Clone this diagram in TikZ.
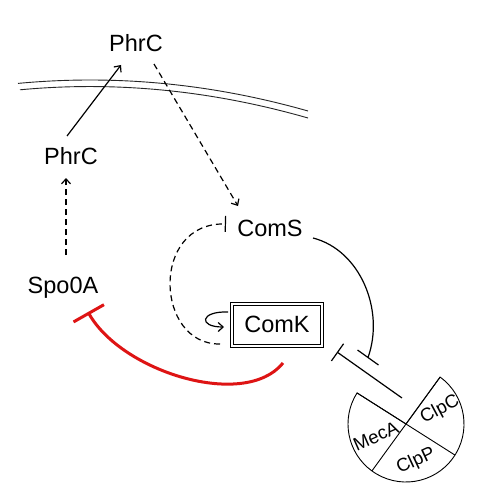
\documentclass[tikz,border=0pt]{standalone}
\usepackage{fontspec}
\setmainfont{Liberation Sans}
\usetikzlibrary{arrows.meta,calc}
\definecolor{inhred}{RGB}{222,20,20}
\begin{document}
\begin{tikzpicture}[x=1pt,y=-1pt,
  lbl/.style={font=\fontsize{23.5}{28}\selectfont, inner sep=0pt, anchor=base},
  sub/.style={font=\fontsize{18.5}{22}\selectfont, inner sep=0pt},
  conn/.style={line width=1.2pt},
  dsh/.style={conn, dash pattern=on 6pt off 4pt},
  act/.style={-{Straight Barb[length=5pt,width=9pt,line width=1.2pt]}},
  memb/.style={line width=0.9pt, black!85},
  redinh/.style={line width=3pt, inhred, -{Bar[width=35pt,line width=3pt]}}]
\useasboundingbox (0,0) rectangle (485,492);
\fill[white] (0,0) rectangle (485,492);

% membrane
\draw[memb] (18,83.4) .. controls (114.7,74.3) and (211.3,83.5) .. (308,111);
\draw[memb] (20,89.8) .. controls (116,80.8) and (212,90.5) .. (308,118);

% nodes
\node[lbl] (phrT) at (136,52) {PhrC};
\node[lbl] (phrM) at (71,164) {PhrC};
\node[lbl] (spo) at (63,293) {Spo0A};
\node[lbl] (coms) at (270,236) {ComS};
\node[font=\fontsize{23.5}{28}\selectfont, draw, double, double distance=2pt, line width=1pt,
      minimum width=90.5pt, minimum height=42pt, inner sep=0pt] (comk) at (277,324.5) {ComK};

% complex
\coordinate (cx) at (406,424);
\draw[line width=0.9pt] (cx) ++(306:58) arc[start angle=306, end angle=572.4, radius=58] -- (cx) -- cycle;
\draw[line width=0.9pt] ($(cx)+(212.4:58)$) -- ($(cx)+(32.4:58)$);
\draw[line width=0.9pt] ($(cx)+(306:58)$) -- ($(cx)+(126:58)$);
\node[sub, rotate=24] (meca) at (376,436) {MecA};
\node[sub, rotate=28] (clpc) at (440,410) {ClpC};
\node[sub, rotate=25] (clpp) at (416,461) {ClpP};

% connector end points
\coordinate (a1) at (67,136);
\coordinate (a2) at (121,65);
\coordinate (b1) at (154,64);
\coordinate (b2) at (238,206);
\coordinate (c1) at (66,255);
\coordinate (c2) at (66,178);
\coordinate (d1) at (220,344);
\coordinate (d2) at (226,224);
\coordinate (e1) at (228,312);
\coordinate (e2) at (224,327);
\coordinate (f1) at (313,238);
\coordinate (f2) at (368,357.5);
\coordinate (g1) at (402,398);
\coordinate (g2) at (337,352);
\coordinate (h1) at (283,363);
\coordinate (h2) at (88,312);

\draw[conn, act] (a1) -- (a2);
\draw[dsh, act] (b1) -- (b2);
\draw[dsh, act] (c1) -- (c2);
\draw[dsh, -{Bar[width=16pt,line width=1.2pt]}] (d1) .. controls (155,345) and (150,222) .. (d2);
\draw[conn, act] (e1) .. controls (200,311) and (198,327) .. (e2);
\draw[conn] (f1) .. controls (360,250) and (385,310) .. (f2) +(-10.5,-7.5) -- +(10.5,7.5);
\draw[conn, -{Bar[width=21pt,line width=1.2pt]}] (g1) -- (g2);
\draw[redinh] (h1) .. controls (245,410) and (122,372) .. (h2);
\end{tikzpicture}
\end{document}
